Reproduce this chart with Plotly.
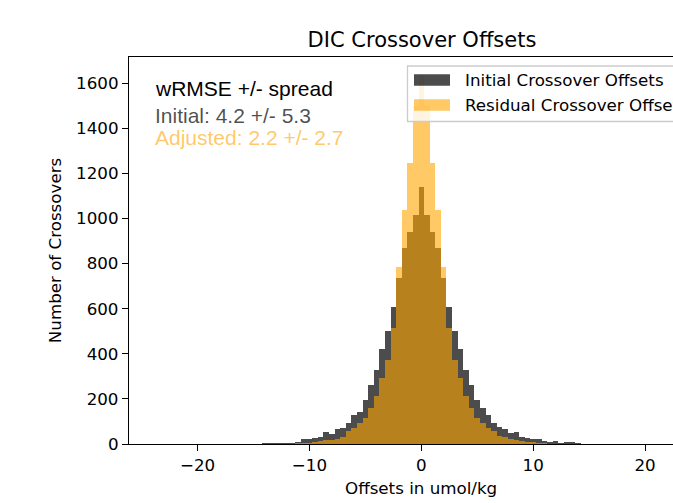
import plotly.graph_objects as go

# ---- data (histogram counts) ----
bin_width = 0.5
first_bin_center = -24.0   # bins centred on multiples of 0.5, from -24 to 24

initial_counts = [
    0, 1, 0, 0, 0, 0, 0, 1, 0, 0, 0, 0, 0, 1, 0, 1, 0, 1,          # -24.0 .. -15.5
    2, 1, 3, 4, 4, 3, 6, 4, 7, 21, 21, 25, 32, 52, 43, 65, 72, 93,  # -15.0 .. -6.5
    130, 144, 193, 263, 326, 422, 503, 607, 735, 868, 942, 1015,    # -6.0 .. -0.5
    1141,                                                           # 0.0
    1015, 942, 868, 735, 607, 503, 422, 326, 263, 193, 160, 130,    # 0.5 .. 6.0
    93, 77, 66, 50, 53, 32, 25, 21, 21, 12, 7, 12, 6, 7, 7, 3, 2, 2, # 6.5 .. 15.0
    1, 0, 1, 0, 0, 1, 0, 0, 0, 1, 0, 0, 0, 0, 0, 0, 0, 0,           # 15.5 .. 24.0
]

residual_counts = [
    0, 0, 0, 0, 0, 0, 0, 0, 0, 0, 0, 0, 0, 0, 0, 0, 0, 0,
    0, 0, 0, 0, 1, 1, 1, 2, 3, 5, 6, 8, 13, 18, 16, 22, 33, 56,
    71, 93, 115, 159, 211, 292, 373, 514, 787, 1038, 1247, 1500,
    1634,
    1500, 1247, 1038, 787, 514, 373, 292, 211, 159, 115, 93, 71,
    56, 35, 31, 22, 18, 15, 10, 7, 5, 3, 2, 2, 1, 1, 0, 0, 0, 0,
    0, 0, 0, 0, 0, 0, 0, 0, 0, 0, 0, 0, 0, 0, 0, 0, 0, 0,
]

bin_centers = [first_bin_center + i * bin_width for i in range(len(initial_counts))]

series_names = ["Initial Crossover Offsets", "Residual Crossover Offsets"]
stats_lines = ["wRMSE +/- spread", "Initial: 4.2 +/- 5.3", "Adjusted: 2.2 +/- 2.7"]
y_ticks = [0, 200, 400, 600, 800, 1000, 1200, 1400, 1600]
x_ticks = [-20, -10, 0, 10, 20]

dark = "rgba(0,0,0,0.7)"
orange = "rgba(255,165,0,0.6)"

W, H = 673, 503
L, R, T, B = 129, 0, 57, 59
PW, PH = W - L - R, H - T - B

def px_x(px):
    return (px - L) / PW

def px_y(py):
    return (H - B - py) / PH

fig = go.Figure()
fig.add_trace(go.Bar(x=bin_centers, y=initial_counts, width=bin_width, name=series_names[0],
                     marker=dict(color=dark, line=dict(width=0)), showlegend=False))
fig.add_trace(go.Bar(x=bin_centers, y=residual_counts, width=bin_width, name=series_names[1],
                     marker=dict(color=orange, line=dict(width=0)), showlegend=False))

tick_font = dict(family="DejaVu Sans", size=16.7, color="black")

fig.update_layout(
    width=W, height=H,
    margin=dict(l=L, r=R, t=T, b=B, pad=0),
    paper_bgcolor="white", plot_bgcolor="white",
    barmode="overlay", bargap=0,
    title=dict(text="DIC Crossover Offsets", x=px_x(422), xref="paper", xanchor="center",
               y=1 - 40 / H, yref="container", yanchor="middle",
               font=dict(family="DejaVu Sans", size=21, color="black")),
    xaxis=dict(range=[-26.13, 22.50], tickvals=x_ticks, ticks="outside", ticklen=6,
               tickwidth=1.3, tickcolor="black", showline=True, linecolor="black", linewidth=1.3,
               mirror=True, showgrid=False, zeroline=False, tickfont=tick_font),
    yaxis=dict(range=[0, 1716], tickvals=y_ticks, ticks="outside", ticklen=6,
               tickwidth=1.3, tickcolor="black", showline=True, linecolor="black", linewidth=1.3,
               mirror=False, showgrid=False, zeroline=False, tickfont=tick_font,
               title=dict(text="Number of Crossovers", font=tick_font, standoff=10)),
)

# x-axis label, centred under the (partly off-page) axes
fig.add_annotation(text="Offsets in umol/kg", x=px_x(421), y=px_y(488), xref="paper", yref="paper",
                   xanchor="center", yanchor="middle", showarrow=False, font=tick_font)

# stats text block (top left)
stat_colors = ["black", dark, orange]
stat_y = [88, 115, 137]
for txt, col, yy in zip(stats_lines, stat_colors, stat_y):
    fig.add_annotation(text=txt, x=px_x(153), y=px_y(yy), xref="paper", yref="paper",
                       xanchor="left", yanchor="middle", showarrow=False,
                       font=dict(family="Liberation Sans", size=21, color=col))

# legend box (matplotlib style, runs off the right edge as in the original)
fig.add_shape(type="rect", xref="paper", yref="paper",
              x0=px_x(407.5), x1=px_x(720), y0=px_y(121.5), y1=px_y(66),
              line=dict(color="#cccccc", width=1.3), fillcolor="rgba(255,255,255,0.8)", layer="above")
for name, col, yc in zip(series_names, [dark, orange], [80, 105]):
    fig.add_shape(type="rect", xref="paper", yref="paper",
                  x0=px_x(414), x1=px_x(450), y0=px_y(yc + 5.8), y1=px_y(yc - 5.8),
                  line=dict(width=0), fillcolor=col, layer="above")
    fig.add_annotation(text=name, x=px_x(463), y=px_y(yc), xref="paper", yref="paper",
                       xanchor="left", yanchor="middle", showarrow=False,
                       font=dict(family="DejaVu Sans", size=16.7, color="black"))

fig.write_html("out.html")
